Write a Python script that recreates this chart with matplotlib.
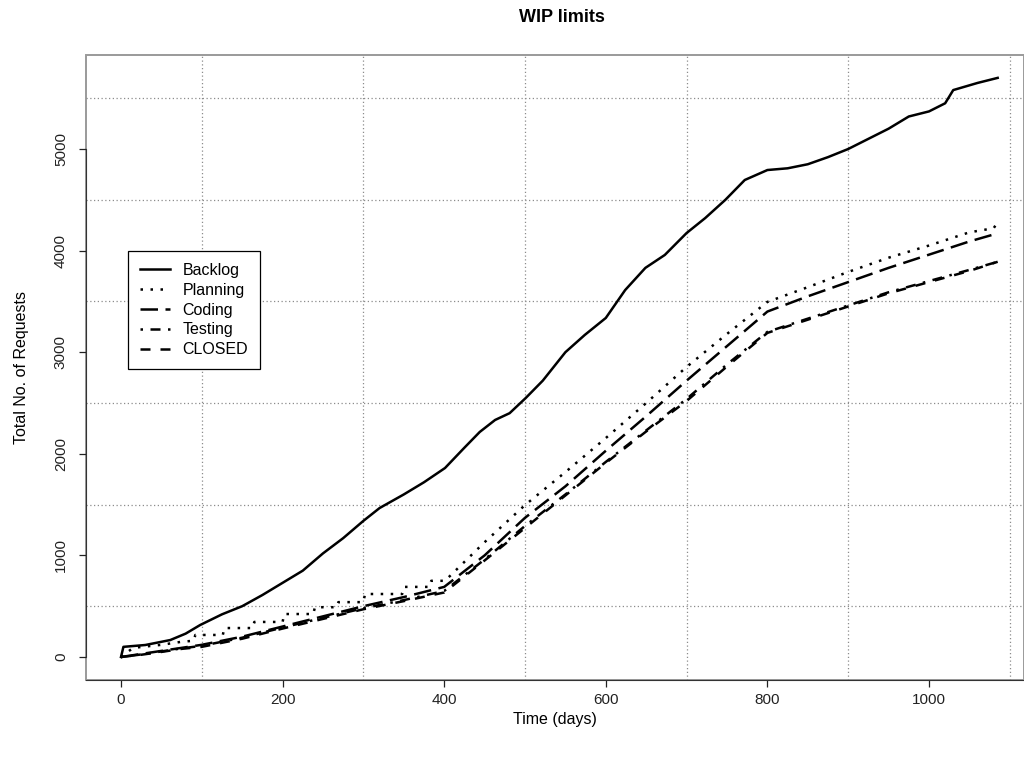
import numpy as np
import matplotlib.pyplot as plt
from matplotlib.patches import Rectangle

plt.rcParams['font.family'] = ['Liberation Sans', 'DejaVu Sans']

# cumulative requests per state
days = [0, 3, 30, 61, 80, 98, 125, 150, 175, 200, 225, 250, 275, 300, 320, 350, 375, 401,
        425, 444, 463, 481, 501, 522, 550, 574, 600, 624, 649, 673, 700, 723, 748, 772, 800,
        825, 850, 875, 900, 925, 950, 975, 1000, 1020, 1030, 1060, 1085]
backlog = [0, 100, 118, 167, 230, 315, 420, 500, 610, 730, 850, 1020, 1170, 1340, 1466, 1600, 1720, 1860,
           2060, 2215, 2333, 2400, 2550, 2720, 3000, 3170, 3337, 3612, 3830, 3957, 4173, 4320, 4500, 4695, 4793,
           4810, 4850, 4920, 5000, 5100, 5200, 5320, 5370, 5450, 5580, 5650, 5700]

plan_days = [0, 15, 50, 75, 90, 92, 126, 128, 163, 165, 200, 202, 238, 240, 267, 269, 300, 302, 348, 350,
             382, 384, 401, 450, 500, 550, 600, 650, 700, 750, 800, 850, 900, 950, 1000, 1050, 1080, 1085]
planning = [0, 90, 120, 150, 160, 217, 217, 285, 285, 345, 345, 423, 423, 490, 490, 540, 540, 620, 620, 690,
            690, 750, 750, 1130, 1495, 1820, 2155, 2500, 2855, 3180, 3495, 3640, 3790, 3930, 4050, 4180, 4220, 4280]

flow_days = [0, 25, 50, 75, 100, 150, 200, 250, 300, 350, 400, 450, 500, 550, 600, 650, 700, 750, 800,
             850, 900, 950, 1000, 1050, 1085]
coding = [0, 30, 60, 90, 120, 200, 300, 400, 500, 590, 690, 1000, 1370, 1680, 2030, 2370, 2720, 3060, 3400,
          3550, 3690, 3830, 3960, 4090, 4170]
testing = [0, 25, 55, 85, 110, 190, 290, 385, 480, 560, 650, 960, 1290, 1600, 1920, 2230, 2540, 2880, 3200,
           3330, 3460, 3590, 3700, 3810, 3890]
closed = [0, 22, 50, 80, 100, 180, 280, 375, 470, 550, 635, 950, 1270, 1590, 1910, 2220, 2520, 2860, 3190,
          3320, 3450, 3580, 3690, 3800, 3890]

fig = plt.figure(figsize=(10.24, 7.58), dpi=100)
ax = fig.add_axes([86 / 1024, 1 - 680 / 758, (1024 - 86) / 1024, (680 - 55) / 758])

lw = 1.8
ax.plot(days, backlog, color='black', lw=lw, ls='-', label='Backlog')
ax.plot(plan_days, planning, color='black', lw=lw, ls=(0, (1, 3)), label='Planning')
ax.plot(flow_days, coding, color='black', lw=lw, ls=(0, (7, 3)), label='Coding')
ax.plot(flow_days, testing, color='black', lw=lw, ls=(0, (1, 3, 4, 3)), label='Testing')
ax.plot(flow_days, closed, color='black', lw=lw, ls=(0, (4, 4)), label='CLOSED')

ax.set_xlim((86 - 121) / 0.808, (1024 - 121) / 0.808)
ax.set_ylim(-(680 - 657) / 0.1016, (657 - 55) / 0.1016)

ax.set_xticks(np.arange(0, 1001, 200))
ax.set_yticks(np.arange(0, 5001, 1000))
ax.set_xticks(np.arange(100, 1101, 100), minor=True)
ax.set_yticks(np.arange(500, 5501, 500), minor=True)
ax.grid(which='minor', color='#8c8c8c', ls=(0, (1, 2)), lw=0.9)
ax.tick_params(which='minor', length=0)
ax.tick_params(which='major', direction='out', length=5, width=0.9, colors='#222222', labelsize=11)
ax.tick_params(axis='x', pad=4)
ax.tick_params(axis='y', pad=8)
for lab in ax.get_yticklabels():
    lab.set_rotation(90)
    lab.set_va('center')

for s in ['top', 'right']:
    ax.spines[s].set_visible(False)
ax.spines['left'].set_bounds(0, 5000)
ax.spines['left'].set_color('#333333')
ax.spines['bottom'].set_color('#333333')
ax.add_patch(Rectangle((0, 0), 1, 1, transform=ax.transAxes, fill=False,
                       ec='#9a9a9a', lw=1.4, clip_on=False, zorder=0))

ax.set_xlabel('Time (days)', fontsize=11.5, labelpad=4)
ax.set_ylabel('Total No. of Requests', fontsize=11.5, labelpad=18)
fig.text(562 / 1024, 1 - 18 / 758, 'WIP limits', ha='center', va='center',
         fontsize=13, fontweight='bold')

leg = ax.legend(loc='upper left', bbox_to_anchor=(128 / 1024, 1 - 251 / 758),
                bbox_transform=fig.transFigure, fontsize=11.5, fancybox=False,
                framealpha=1, edgecolor='black', handlelength=1.9, labelspacing=0.3,
                borderpad=0.75, handletextpad=0.75, borderaxespad=0)
leg.get_frame().set_linewidth(0.9)

fig.savefig('out.png', dpi=100)
